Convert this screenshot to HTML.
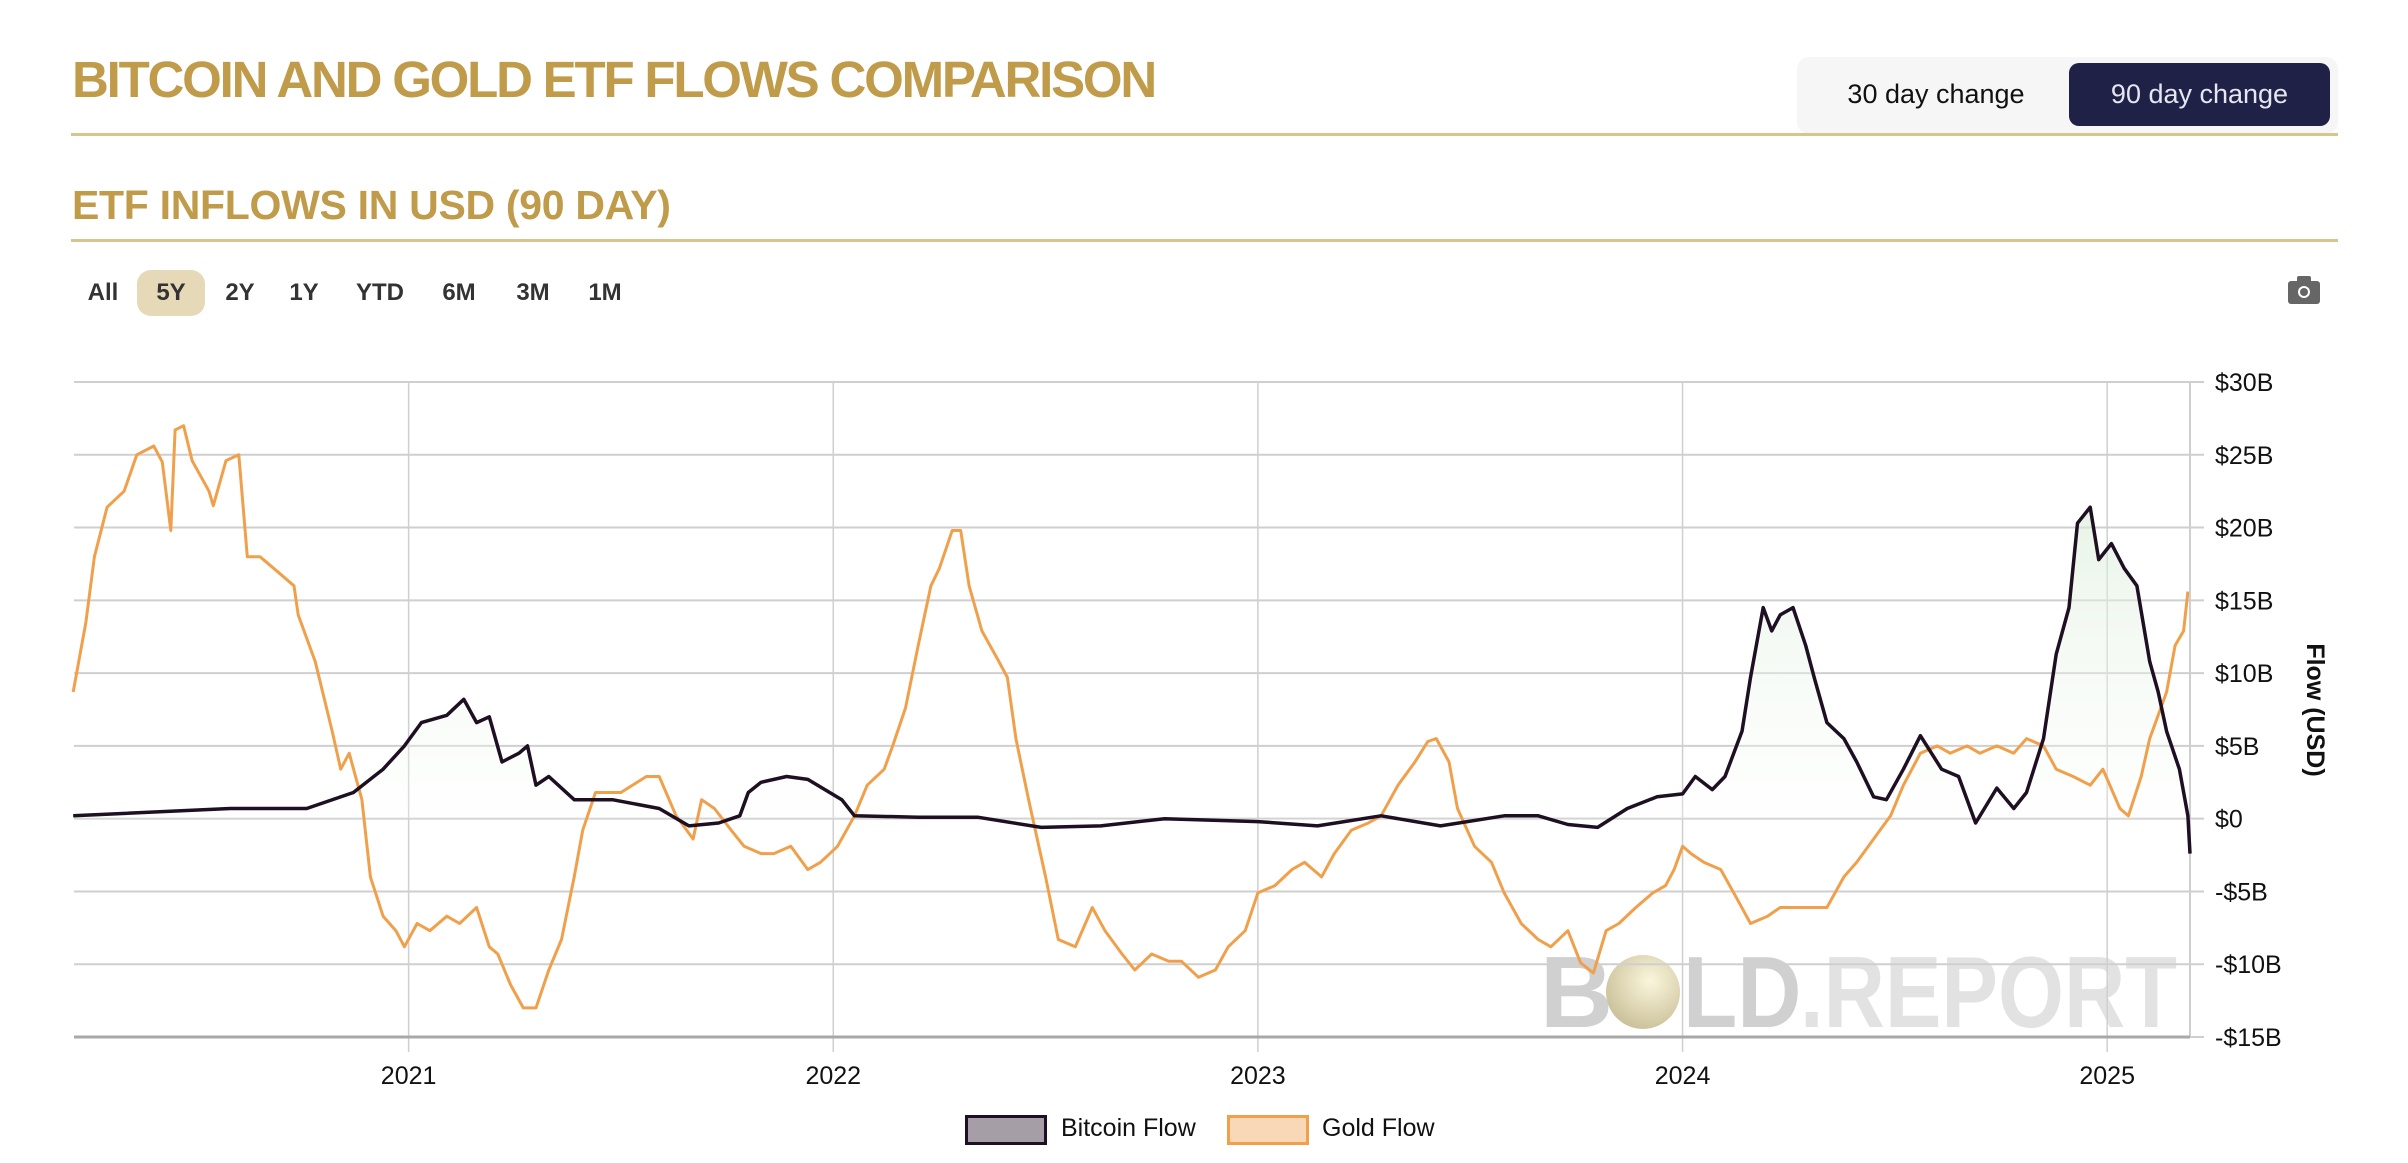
<!DOCTYPE html>
<html><head><meta charset="utf-8"><style>
body{margin:0;width:2408px;height:1163px;background:#fff;font-family:"Liberation Sans",sans-serif;position:relative;overflow:hidden}
.abs{position:absolute}
.title{left:72px;top:50px;font-size:51px;font-weight:bold;color:#bf9b4a;letter-spacing:-2.2px;white-space:nowrap}
.sub{left:72px;top:182px;font-size:41px;font-weight:bold;color:#bf9b4a;letter-spacing:-0.3px;white-space:nowrap}
.rule{left:71px;width:2267px;height:3px;background:#d7c48e}
.tog{left:1797px;top:57px;width:541px;height:77px;background:#f6f6f6;border-radius:12px}
.btn{position:absolute;top:6px;height:63px;line-height:63px;font-size:27px;text-align:center;border-radius:10px}
.rng{top:270px;height:46px;line-height:46px;font-size:24px;font-weight:bold;color:#333;text-align:center}
</style></head><body>
<div class="abs title">BITCOIN AND GOLD ETF FLOWS COMPARISON</div>
<div class="abs tog">
<div class="btn" style="left:6px;width:266px;color:#111">30 day change</div>
<div class="btn" style="left:272px;width:261px;background:#1f2147;color:#e6e6f0">90 day change</div>
</div>
<div class="abs rule" style="top:133px"></div>
<div class="abs sub">ETF INFLOWS IN USD (90 DAY)</div>
<div class="abs rule" style="top:239px"></div>
<div class="abs rng" style="left:82px;width:42px">All</div>
<div class="abs rng" style="left:137px;width:68px;background:#e6d9b8;border-radius:14px">5Y</div>
<div class="abs rng" style="left:218px;width:44px">2Y</div>
<div class="abs rng" style="left:284px;width:40px">1Y</div>
<div class="abs rng" style="left:350px;width:60px">YTD</div>
<div class="abs rng" style="left:436px;width:46px">6M</div>
<div class="abs rng" style="left:510px;width:46px">3M</div>
<div class="abs rng" style="left:582px;width:46px">1M</div>
<svg class="abs" style="left:2288px;top:276px" width="32" height="28"><rect x="0" y="5" width="32" height="23" rx="3" fill="#666"/><rect x="9" y="0" width="14" height="7" rx="2" fill="#666"/><circle cx="16" cy="16" r="6" fill="#fff"/><circle cx="16" cy="16" r="4" fill="#666"/></svg>
<svg id="chart" class="abs" style="left:0;top:0" width="2408" height="1163">
<defs><linearGradient id="gfill" x1="0" y1="0" x2="0" y2="1"><stop offset="0" stop-color="#d8ecd6" stop-opacity="0.6"/><stop offset="1" stop-color="#ffffff" stop-opacity="0.2"/></linearGradient>
<radialGradient id="coin" cx="0.6" cy="0.35" r="0.7"><stop offset="0" stop-color="#fbf6dc"/><stop offset="1" stop-color="#c9bf98"/></radialGradient></defs>
<g id="wm">
<text x="1540" y="1027" font-size="101" font-weight="bold" fill="#d0d0d0" font-family="Liberation Sans,sans-serif">B</text>
<ellipse cx="1643" cy="992" rx="37" ry="37" fill="url(#coin)"/>
<text transform="translate(1683,1027) scale(0.88,1)" font-size="101" font-weight="bold" fill="#d0d0d0" font-family="Liberation Sans,sans-serif">LD</text>
<text transform="translate(1800,1027) scale(0.84,1)" font-size="101" font-weight="bold" fill="#e2e2e2" font-family="Liberation Sans,sans-serif">.REPORT</text>
</g>
<g id="grid"></g><g id="series"></g><g id="axes"></g>
</svg>
<div class="abs" style="left:965px;top:1115px;width:76px;height:24px;background:#a59ea6;border:3px solid #1e0f23"></div>
<div class="abs" style="left:1061px;top:1114px;font-size:25px;color:#111">Bitcoin Flow</div>
<div class="abs" style="left:1227px;top:1115px;width:76px;height:24px;background:#f8d8b6;border:3px solid #f0a04b"></div>
<div class="abs" style="left:1322px;top:1114px;font-size:25px;color:#111">Gold Flow</div>
<script>
const yTicks=[30,25,20,15,10,5,0,-5,-10,-15];
const yTickLabels=["$30B","$25B","$20B","$15B","$10B","$5B","$0","-$5B","-$10B","-$15B"];
const xTicks=[2021,2022,2023,2024,2025];
const xTickLabels=["2021","2022","2023","2024","2025"];
const goldDates=[2020.21,2020.24,2020.26,2020.29,2020.33,2020.36,2020.40,2020.42,2020.44,2020.45,2020.47,2020.49,2020.53,2020.54,2020.57,2020.60,2020.62,2020.65,2020.69,2020.73,2020.74,2020.78,2020.82,2020.84,2020.86,2020.89,2020.91,2020.94,2020.97,2020.99,2021.02,2021.05,2021.09,2021.12,2021.16,2021.19,2021.21,2021.24,2021.27,2021.30,2021.33,2021.36,2021.39,2021.41,2021.44,2021.47,2021.50,2021.56,2021.59,2021.63,2021.67,2021.69,2021.72,2021.76,2021.79,2021.83,2021.86,2021.90,2021.94,2021.97,2022.01,2022.05,2022.08,2022.12,2022.14,2022.17,2022.20,2022.23,2022.25,2022.28,2022.30,2022.32,2022.35,2022.39,2022.41,2022.43,2022.46,2022.50,2022.53,2022.57,2022.61,2022.64,2022.68,2022.71,2022.75,2022.79,2022.82,2022.86,2022.90,2022.93,2022.97,2023.00,2023.04,2023.08,2023.11,2023.15,2023.18,2023.22,2023.26,2023.29,2023.33,2023.37,2023.40,2023.42,2023.45,2023.47,2023.51,2023.55,2023.58,2023.62,2023.66,2023.69,2023.73,2023.76,2023.79,2023.82,2023.85,2023.89,2023.93,2023.96,2023.98,2024.00,2024.02,2024.05,2024.09,2024.13,2024.16,2024.20,2024.23,2024.27,2024.31,2024.34,2024.38,2024.41,2024.45,2024.49,2024.52,2024.56,2024.60,2024.63,2024.67,2024.70,2024.74,2024.78,2024.81,2024.85,2024.88,2024.92,2024.96,2024.99,2025.03,2025.05,2025.08,2025.10,2025.14,2025.16,2025.18,2025.19];
const goldValues=[8.7,13.5,18,21.4,22.5,25,25.6,24.5,19.8,26.7,27,24.6,22.5,21.5,24.6,25,18,18,17,16,14,10.8,6,3.4,4.5,1.3,-4,-6.7,-7.7,-8.8,-7.2,-7.7,-6.7,-7.2,-6.1,-8.8,-9.3,-11.4,-13,-13,-10.4,-8.3,-4,-0.8,1.8,1.8,1.8,2.9,2.9,0.2,-1.4,1.3,0.7,-0.8,-1.9,-2.4,-2.4,-1.9,-3.5,-3,-1.9,0.2,2.3,3.4,5,7.6,11.9,16,17.2,19.8,19.8,16,12.9,10.8,9.7,5.5,1.3,-4,-8.3,-8.8,-6.1,-7.7,-9.3,-10.4,-9.3,-9.8,-9.8,-10.9,-10.4,-8.8,-7.7,-5.1,-4.6,-3.5,-3,-4,-2.4,-0.8,-0.3,0.2,2.3,3.9,5.3,5.5,3.9,0.7,-1.9,-3,-5.1,-7.2,-8.3,-8.8,-7.7,-9.9,-10.6,-7.7,-7.2,-6.1,-5.1,-4.6,-3.5,-1.9,-2.4,-3,-3.5,-5.6,-7.2,-6.7,-6.1,-6.1,-6.1,-6.1,-4,-3,-1.4,0.2,2.3,4.5,5,4.5,5,4.5,5,4.5,5.5,5,3.4,2.9,2.3,3.4,0.7,0.2,2.9,5.5,8.7,11.9,12.9,15.6];
const btcDates=[2020.21,2020.58,2020.76,2020.87,2020.94,2020.99,2021.03,2021.09,2021.13,2021.16,2021.19,2021.22,2021.26,2021.28,2021.30,2021.33,2021.39,2021.48,2021.59,2021.66,2021.73,2021.78,2021.80,2021.83,2021.89,2021.94,2022.02,2022.05,2022.20,2022.34,2022.49,2022.63,2022.78,2023.00,2023.14,2023.29,2023.43,2023.58,2023.66,2023.73,2023.80,2023.87,2023.94,2024.00,2024.03,2024.07,2024.10,2024.14,2024.16,2024.19,2024.21,2024.23,2024.26,2024.29,2024.31,2024.34,2024.38,2024.41,2024.45,2024.48,2024.52,2024.56,2024.61,2024.65,2024.69,2024.74,2024.78,2024.81,2024.85,2024.88,2024.91,2024.93,2024.96,2024.98,2025.01,2025.04,2025.07,2025.10,2025.12,2025.14,2025.17,2025.19,2025.195];
const btcValues=[0.2,0.7,0.7,1.8,3.4,5,6.6,7.1,8.2,6.6,7,3.9,4.5,5,2.3,2.9,1.3,1.3,0.7,-0.5,-0.3,0.2,1.8,2.5,2.9,2.7,1.3,0.2,0.1,0.1,-0.6,-0.5,0,-0.2,-0.5,0.2,-0.5,0.2,0.2,-0.4,-0.6,0.7,1.5,1.7,2.9,2,2.9,6,9.7,14.5,12.9,14,14.5,11.9,9.7,6.6,5.5,3.9,1.5,1.3,3.4,5.7,3.4,2.9,-0.3,2.1,0.7,1.8,5.5,11.3,14.5,20.3,21.4,17.8,18.9,17.2,16,10.8,8.7,6,3.4,0.2,-2.4];
const NS='http://www.w3.org/2000/svg';
const X0=74,X1=2190,Y0=1037,Y1=382,T0=2020.212,T1=2025.195,V0=-15,V1=30;
function xs(t){return X0+(t-T0)/(T1-T0)*(X1-X0);}
function ys(v){return Y0-(v-V0)/(V1-V0)*(Y0-Y1);}
function mk(tag,attrs,parent){const e=document.createElementNS(NS,tag);for(const k in attrs)e.setAttribute(k,attrs[k]);parent.appendChild(e);return e;}
const grid=document.getElementById('grid'),axes=document.getElementById('axes'),ser=document.getElementById('series');
yTicks.forEach((v,i)=>{
 const l=mk('line',{x1:X0,x2:X1+14,y1:ys(v),y2:ys(v),stroke:'#cfcfcf','stroke-width':2},grid);
 
 
 const t=mk('text',{x:2215,y:ys(v)+9,'font-size':25,fill:'#111','font-family':'Liberation Sans,sans-serif'},axes);
 t.textContent=yTickLabels[i];
 
 
});
xTicks.forEach((v,i)=>{
 const l=mk('line',{x1:xs(v),x2:xs(v),y1:Y1,y2:Y0+15,stroke:'#cfcfcf','stroke-width':1.5},grid);
 
 
 const t=mk('text',{x:xs(v),y:1084,'font-size':25,fill:'#111','text-anchor':'middle','font-family':'Liberation Sans,sans-serif'},axes);
 t.textContent=xTickLabels[i];
 
 
});
const rl=mk('line',{x1:X1,x2:X1,y1:Y1,y2:Y0,stroke:'#cfcfcf','stroke-width':2},grid);


const bl=mk('line',{x1:X0,x2:X1,y1:Y0,y2:Y0,stroke:'#a8a8a8','stroke-width':3},axes);


const yt=mk('text',{x:0,y:0,'font-size':25,'font-weight':'bold',fill:'#111','text-anchor':'middle',transform:'translate(2307,710) rotate(90)','font-family':'Liberation Sans,sans-serif'},axes);
yt.textContent='Flow (USD)';


function pts(d,v){return d.map((t,i)=>xs(t).toFixed(1)+','+ys(v[i]).toFixed(1));}
const bp=pts(btcDates,btcValues);
const area=mk('path',{d:'M'+xs(btcDates[0])+','+ys(0)+'L'+bp.join('L')+'L'+xs(btcDates[btcDates.length-1])+','+ys(0)+'Z',fill:'url(#gfill)'},ser);


const gl=mk('polyline',{points:pts(goldDates,goldValues).join(' '),fill:'none',stroke:'#f0a04b','stroke-width':3,'stroke-linejoin':'round'},ser);


const bl2=mk('polyline',{points:bp.join(' '),fill:'none',stroke:'#1e0f23','stroke-width':3.5,'stroke-linejoin':'round'},ser);


</script>
</body></html>
